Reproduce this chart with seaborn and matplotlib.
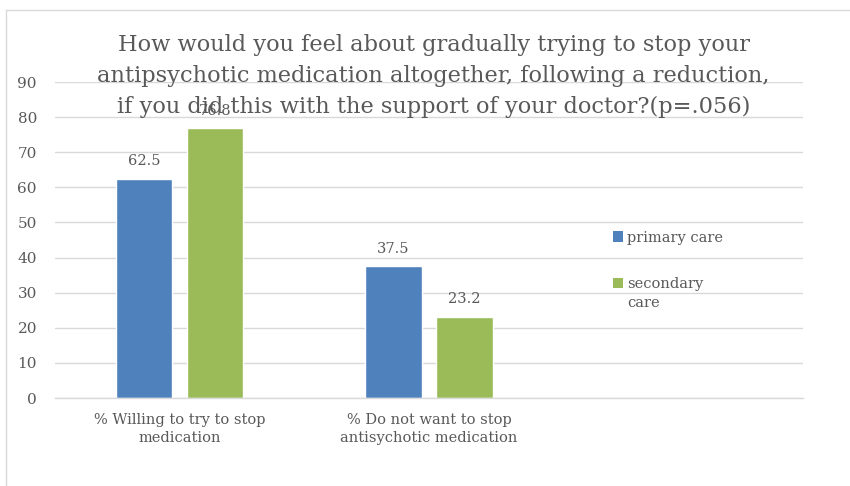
import matplotlib
matplotlib.use("Agg")
import matplotlib.pyplot as plt
from matplotlib.lines import Line2D
from matplotlib.patches import Patch
import seaborn as sns
import pandas as pd

# Survey responses (percent of respondents)
categories = ["% Willing to try to stop\nmedication",
              "% Do not want to stop\nantisychotic medication"]
groups = ["primary care", "secondary care"]
primary_care = [62.5, 37.5]
secondary_care = [76.8, 23.2]
legend_labels = ["primary care", "secondary\ncare"]
title = ("How would you feel about gradually trying to stop your\n"
         "antipsychotic medication altogether, following a reduction,\n"
         "if you did this with the support of your doctor?(p=.056)")

df = pd.DataFrame({
    "category": categories * 2,
    "group": [groups[0]] * 2 + [groups[1]] * 2,
    "value": primary_care + secondary_care,
})

sns.set_theme(style="white")
plt.rcParams["font.family"] = ["DejaVu Serif"]

grey_text = "#595959"
colors = ["#4F81BD", "#9BBB59"]

fig = plt.figure(figsize=(8.5, 4.86), dpi=100)
ax = fig.add_axes([55 / 850, 1 - 398 / 486, (803 - 55) / 850, (398 - 82) / 486])

sns.barplot(data=df, x="category", y="value", hue="group", order=categories,
            hue_order=groups, palette=colors, width=0.57, gap=0.21,
            saturation=1, ax=ax, legend=False)

for cont in ax.containers:
    ax.bar_label(cont, fmt="%g", padding=7.5, fontsize=10.5, color=grey_text)

ax.set_xlim(-0.5, 2.5)
ax.set_ylim(0, 90)
ax.set_yticks(range(0, 91, 10))
ax.yaxis.grid(True, color="#D9D9D9", linewidth=1)
ax.set_axisbelow(True)
for side in ["left", "right", "top"]:
    ax.spines[side].set_visible(False)
ax.spines["bottom"].set_color("#D9D9D9")
ax.spines["bottom"].set_linewidth(1)
ax.set_xlabel("")
ax.set_ylabel("")
ax.tick_params(axis="both", length=0, colors=grey_text, labelsize=10.5)
ax.tick_params(axis="y", labelsize=11, pad=13)
ax.tick_params(axis="x", pad=11)
for lbl in ax.get_xticklabels():
    lbl.set_linespacing(1.35)

handles = [Patch(facecolor=c, edgecolor="none") for c in colors]
leg = ax.legend(handles, legend_labels, loc="upper left",
                bbox_to_anchor=(0.728, 0.571), frameon=False,
                fontsize=10.5, labelcolor=grey_text, handlelength=0.7,
                handleheight=0.7, handletextpad=0.3, labelspacing=2.2)
leg.get_texts()[1].set_linespacing(1.45)
# put the second swatch level with the first line of its two-line label
sw = leg.legend_handles[1]
sw.set_y(sw.get_y() + 7.5)

fig.text(0.51, 1 - 76 / 486, title, ha="center", va="center",
         fontsize=16.2, color=grey_text, linespacing=1.52)

# Chart frame (left and top edges)
fig.add_artist(Line2D([5.5 / 850, 5.5 / 850], [0, 1 - 10.5 / 486],
                      transform=fig.transFigure, color="#D9D9D9", lw=1))
fig.add_artist(Line2D([5.5 / 850, 1], [1 - 10.5 / 486, 1 - 10.5 / 486],
                      transform=fig.transFigure, color="#D9D9D9", lw=1))

fig.savefig("out.png", dpi=100)
